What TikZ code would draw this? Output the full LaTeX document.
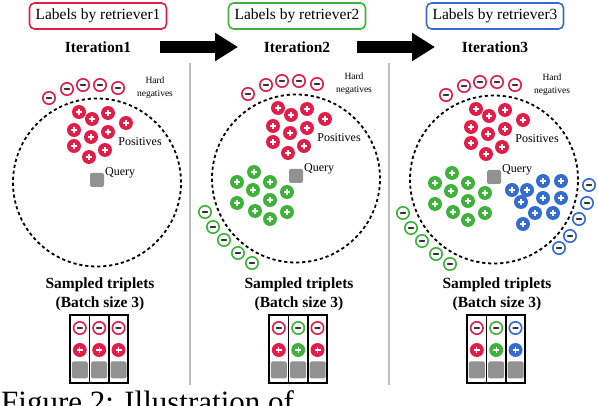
\documentclass[tikz,border=0pt]{standalone}
\usepackage{fontspec}
\setmainfont{Liberation Serif}
\usetikzlibrary{positioning,arrows.meta}
\definecolor{posred}{RGB}{226,29,72}
\definecolor{posgreen}{RGB}{62,178,58}
\definecolor{posblue}{RGB}{52,108,208}
\definecolor{qgray}{RGB}{146,146,146}
\definecolor{sepgray}{RGB}{190,190,190}

% point lists, in the frame of the first panel
\newcommand{\redneg}{49/98,67/89,83/85,100/85,118/88}
\newcommand{\redpos}{79/112,92/119,108/113,126/123,74/130,91/137,108/132,74/146,105/150,89/157}
\newcommand{\greenpos}{55/176,38/186,54/194,71/186,88/196,38/207,71/204,56/215,88/216,71/223}
\newcommand{\greenneg}{6/216,14/231,25/244,39/257,53/267}
\newcommand{\bluepos}{115/193,130/193,146/184,164/184,124/205,146/201,164/201,138/216,156/216,126/227}
\newcommand{\blueneg}{192/188,190/206,182/222,173/239,162/251}

\begin{document}
\begin{tikzpicture}
  [x=1pt,y=-1pt,
   posN/.style={circle,fill=#1,minimum size=14pt,inner sep=0pt,
     path picture={\draw[white,line width=1.2pt]
       ([xshift=-3pt]path picture bounding box.center) -- ([xshift=3pt]path picture bounding box.center)
       ([yshift=-3pt]path picture bounding box.center) -- ([yshift=3pt]path picture bounding box.center);}},
   negN/.style={circle,draw=#1,fill=white,line width=1.6pt,minimum size=12.4pt,inner sep=0pt,
     path picture={\draw[black!80,line width=1.8pt,line cap=round]
       ([xshift=-2.3pt]path picture bounding box.center) -- ([xshift=2.3pt]path picture bounding box.center);}},
   queryN/.style={fill=qgray,rounded corners=1.5pt,minimum size=14pt,inner sep=0pt},
   tripQ/.style={fill=qgray,rounded corners=1.5pt,minimum width=16pt,minimum height=17pt,inner sep=0pt},
   cellB/.style={draw,line width=1.5pt,minimum width=19.3pt,minimum height=68pt,inner sep=0pt},
   labelB/.style={draw=#1,rounded corners=5pt,line width=1.6pt,minimum width=137pt,minimum height=26pt,
     font=\fontsize{15.5}{18}\selectfont},
   iterT/.style={font=\bfseries\fontsize{15.5}{19}\selectfont},
   smallT/.style={font=\fontsize{9.5}{13}\selectfont,inner sep=0pt},
   midT/.style={font=\fontsize{12}{14}\selectfont,inner sep=0pt},
   dashC/.style={dash pattern=on 3.2pt off 2.8pt,line width=1.8pt},
   bigA/.style={line width=12pt,-{Triangle[length=23pt,width=27pt]}},
   sepL/.style={draw=sepgray,line width=1.2pt}]

  \useasboundingbox (0,0) rectangle (598,406);
  \clip (0,0) rectangle (598,406);

  % arrows between the iterations
  \coordinate (ar1s) at (160,47); \coordinate (ar1e) at (238,47);
  \coordinate (ar2s) at (357,47); \coordinate (ar2e) at (435,47);
  \draw [bigA] (ar1s) -- (ar1e);
  \draw [bigA] (ar2s) -- (ar2e);

  % separators
  \coordinate (s1t) at (190,63); \coordinate (s1b) at (190,385);
  \coordinate (s2t) at (389,63); \coordinate (s2b) at (389,385);
  \draw [sepL] (s1t) -- (s1b);
  \draw [sepL] (s2t) -- (s2b);

  \foreach \p/\dx/\dy/\colL/\colM/\colR in {1/0/0/posred/posred/posred,
      2/199/4/posgreen/posgreen/posred, 3/397/3/posblue/posgreen/posblue} {
    \begin{scope}[xshift=\dx pt]
      \node[labelB=\colL] (lb\p) at (98,16) {Labels by retriever\p};
      \node[iterT] (it\p) at (98,47) {Iteration\p};
      \node[iterT,align=center] (st\p) at (100,294.5) {Sampled triplets\\(Batch size 3)};

      % sampled triplets
      \foreach \c/\xx/\cc in {1/79.8/posred,2/99.2/\colM,3/118.5/\colR} {
        \node[cellB] (t\p-\c) at (\xx,349) {};
        \node[negN=\cc] (tn\p-\c) at (\xx,328) {};
        \node[posN=\cc] (tp\p-\c) at (\xx,350) {};
        \node[tripQ] (tq\p-\c) at (\xx,370) {};
      }

      \begin{scope}[yshift=\dy pt]
        \coordinate (c\p) at (97,182.5);
        \draw [dashC] (c\p) circle[radius=84pt];
        \node[queryN] (q\p) at (97,180) {};
        \node[midT,anchor=west] (ql\p) at (105,173) {Query};
        \node[smallT,align=center] (hn\p) at (155,87.5) {Hard\\negatives};
        \node[midT] (pl\p) at (140,142) {Positives};

        \foreach \x/\y [count=\i] in \redneg {\node[negN=posred] (rn\p-\i) at (\x,\y) {};}
        \foreach \x/\y [count=\i] in \redpos {\node[posN=posred] (rp\p-\i) at (\x,\y) {};}
        \ifnum\p>1
          \foreach \x/\y [count=\i] in \greenpos {\node[posN=posgreen] (gp\p-\i) at (\x,\y) {};}
          \foreach \x/\y [count=\i] in \greenneg {\node[negN=posgreen] (gn\p-\i) at (\x,\y) {};}
        \fi
        \ifnum\p>2
          \foreach \x/\y [count=\i] in \bluepos {\node[posN=posblue] (bp\p-\i) at (\x,\y) {};}
          \foreach \x/\y [count=\i] in \blueneg {\node[negN=posblue] (bn\p-\i) at (\x,\y) {};}
        \fi
      \end{scope}
    \end{scope}
  }

  % caption, cut by the frame
  \node[font=\fontsize{31}{36}\selectfont,anchor=base west,inner sep=0pt] (cap) at (1,412.5)
    {Figure 2: Illustration of};
\end{tikzpicture}
\end{document}
